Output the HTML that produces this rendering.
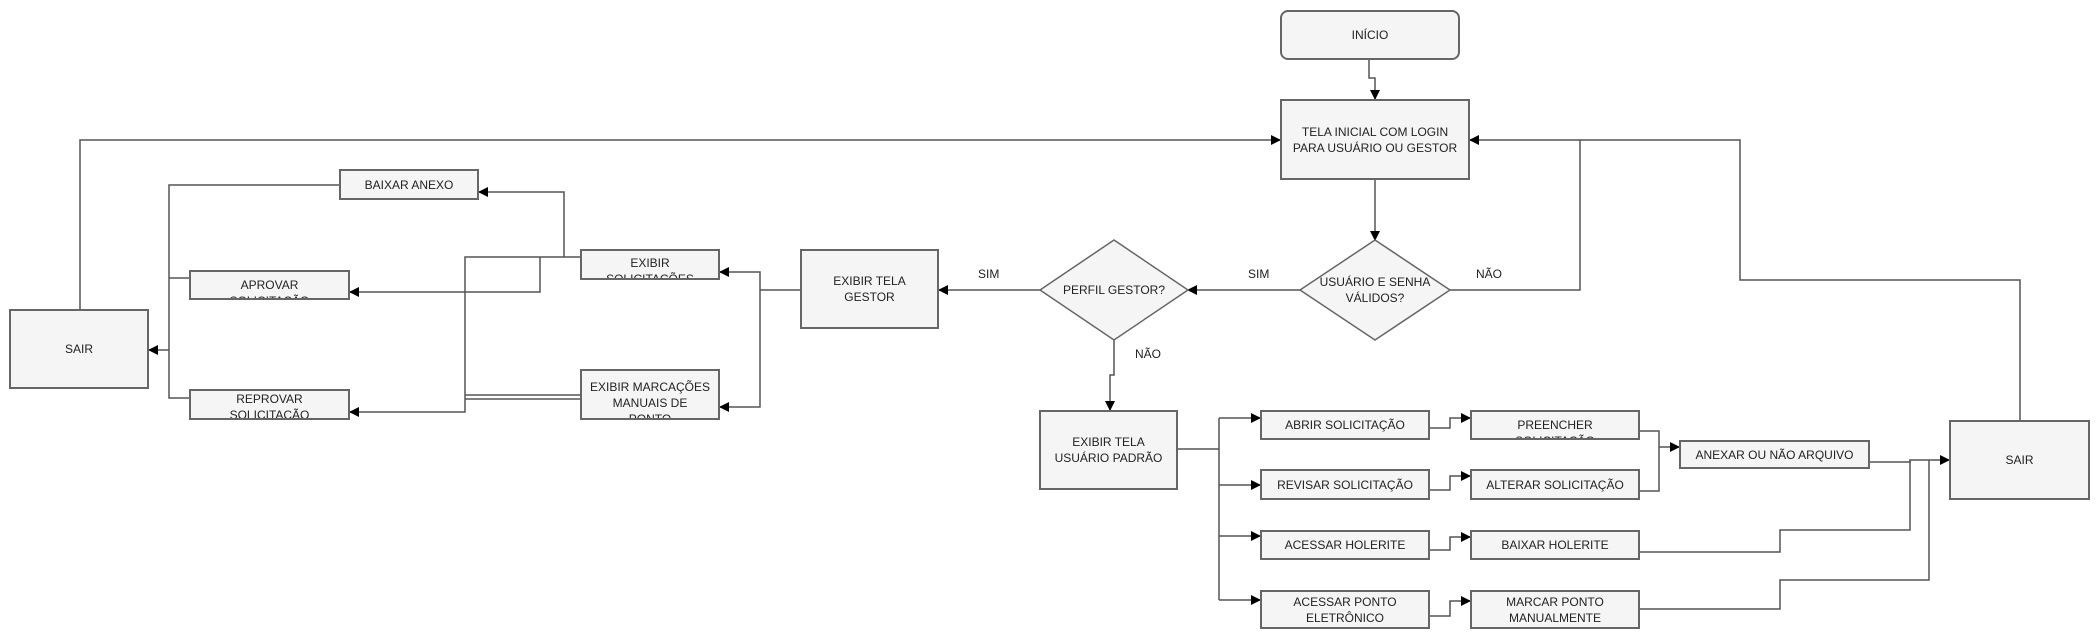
<!DOCTYPE html>
<html><head><meta charset="utf-8"><style>
body{margin:0;background:#fff;}
#c{position:relative;width:2100px;height:644px;overflow:hidden;font-family:"Liberation Sans",Arial,sans-serif;font-size:12px;color:#222;}
.b{position:absolute;box-sizing:border-box;background:#f5f5f5;border:2px solid #666;display:flex;flex-direction:column;align-items:center;justify-content:center;text-align:center;line-height:16px;overflow:hidden;}
.t{justify-content:flex-start;}
.l{position:absolute;font-size:12px;}
svg{position:absolute;left:0;top:0;}
</style></head><body><div id="c">
<svg width="2100" height="644">
<defs><marker id="a" markerWidth="10" markerHeight="10" refX="9" refY="5" orient="auto" markerUnits="userSpaceOnUse"><path d="M0,0 L10,5 L0,10 z" fill="#000"/></marker></defs>
<g fill="none" stroke="#555" stroke-width="1.5">
<!-- top -->
<path d="M1369,60 V78 H1375 V99" marker-end="url(#a)"/>
<path d="M1375,180 V240" marker-end="url(#a)"/>
<path d="M1300,290 H1188" marker-end="url(#a)"/>
<path d="M1450,290 H1580 V140 H1470" marker-end="url(#a)"/>
<path d="M2020,420 V280 H1740 V140 H1580"/>
<path d="M1040,290 H939" marker-end="url(#a)"/>
<path d="M1114,340 V375 H1110 V410" marker-end="url(#a)"/>
<!-- gestor -->
<path d="M800,290 H760"/>
<path d="M760,290 V272 H720" marker-end="url(#a)"/>
<path d="M760,290 V407 H720" marker-end="url(#a)"/>
<path d="M580,257 H465 V412 H350" marker-end="url(#a)"/>
<path d="M564,257 V192 H479" marker-end="url(#a)"/>
<path d="M540,257 V292 H350" marker-end="url(#a)"/>
<path d="M580,395 H465 M580,399 H465"/>
<path d="M339,185 H169 V398 H189 M169,278 H189"/>
<path d="M169,350 H149" marker-end="url(#a)"/>
<path d="M80,309 V140 H1280" marker-end="url(#a)"/>
<!-- usuario -->
<path d="M1178,449 H1219 M1219,418 V600"/>
<path d="M1219,418 H1260" marker-end="url(#a)"/>
<path d="M1219,485 H1260" marker-end="url(#a)"/>
<path d="M1219,536 H1260" marker-end="url(#a)"/>
<path d="M1219,600 H1260" marker-end="url(#a)"/>
<path d="M1430,428 H1450 V418 H1470" marker-end="url(#a)"/>
<path d="M1430,490 H1450 V476 H1470" marker-end="url(#a)"/>
<path d="M1430,550 H1450 V537 H1470" marker-end="url(#a)"/>
<path d="M1430,616 H1450 V601 H1470" marker-end="url(#a)"/>
<path d="M1640,431 H1659 V491 H1640 M1659,447 H1679" marker-end="url(#a)"/>
<path d="M1870,462 H1910 V460 H1949" marker-end="url(#a)"/>
<path d="M1640,552 H1780 V530 H1910 V460"/>
<path d="M1640,609 H1780 V580 H1929 V460"/>
</g>
<g fill="#f5f5f5" stroke="#666" stroke-width="1.5">
<polygon points="1375,240 1450,290 1375,340 1300,290"/>
<polygon points="1114,240 1188,290 1114,340 1040,290"/>
</g>
<text x="1375" y="286" text-anchor="middle" font-family="Liberation Sans,Arial,sans-serif" font-size="12" fill="#222">USUÁRIO E SENHA</text>
<text x="1375" y="302" text-anchor="middle" font-family="Liberation Sans,Arial,sans-serif" font-size="12" fill="#222">VÁLIDOS?</text>
<text x="1114" y="294" text-anchor="middle" font-family="Liberation Sans,Arial,sans-serif" font-size="12" fill="#222">PERFIL GESTOR?</text>
</svg>
<div class="b" style="left:1280px;top:10px;width:180px;height:50px;border-radius:8px">INÍCIO</div>
<div class="b" style="left:1280px;top:99px;width:190px;height:81px">TELA INICIAL COM LOGIN<br>PARA USUÁRIO OU GESTOR</div>
<div class="l" style="left:1248px;top:267px">SIM</div>
<div class="l" style="left:1476px;top:267px">NÃO</div>
<div class="l" style="left:978px;top:267px">SIM</div>
<div class="l" style="left:1135px;top:347px">NÃO</div>
<div class="b" style="left:800px;top:249px;width:139px;height:80px">EXIBIR TELA<br>GESTOR</div>
<div class="b t" style="left:580px;top:249px;width:140px;height:31px;padding-top:4px">EXIBIR<br>SOLICITAÇÕES</div>
<div class="b t" style="left:580px;top:369px;width:140px;height:51px;padding-top:8px">EXIBIR MARCAÇÕES<br>MANUAIS DE<br>PONTO</div>
<div class="b" style="left:339px;top:169px;width:140px;height:31px">BAIXAR ANEXO</div>
<div class="b t" style="left:189px;top:270px;width:161px;height:30px;padding-top:5px">APROVAR<br>SOLICITAÇÃO</div>
<div class="b t" style="left:189px;top:389px;width:161px;height:31px;padding-top:0px">REPROVAR<br>SOLICITAÇÃO</div>
<div class="b" style="left:9px;top:309px;width:140px;height:80px">SAIR</div>
<div class="b" style="left:1039px;top:410px;width:139px;height:80px">EXIBIR TELA<br>USUÁRIO PADRÃO</div>
<div class="b" style="left:1260px;top:410px;width:170px;height:30px">ABRIR SOLICITAÇÃO</div>
<div class="b" style="left:1260px;top:469px;width:170px;height:31px">REVISAR SOLICITAÇÃO</div>
<div class="b" style="left:1260px;top:530px;width:170px;height:30px">ACESSAR HOLERITE</div>
<div class="b" style="left:1260px;top:590px;width:170px;height:39px">ACESSAR PONTO<br>ELETRÔNICO</div>
<div class="b t" style="left:1470px;top:410px;width:170px;height:30px;padding-top:5px">PREENCHER<br>SOLICITAÇÃO</div>
<div class="b" style="left:1470px;top:469px;width:170px;height:31px">ALTERAR SOLICITAÇÃO</div>
<div class="b" style="left:1470px;top:530px;width:170px;height:30px">BAIXAR HOLERITE</div>
<div class="b" style="left:1470px;top:590px;width:170px;height:39px">MARCAR PONTO<br>MANUALMENTE</div>
<div class="b" style="left:1679px;top:440px;width:191px;height:29px">ANEXAR OU NÃO ARQUIVO</div>
<div class="b" style="left:1949px;top:420px;width:141px;height:80px">SAIR</div>
</div></body></html>
